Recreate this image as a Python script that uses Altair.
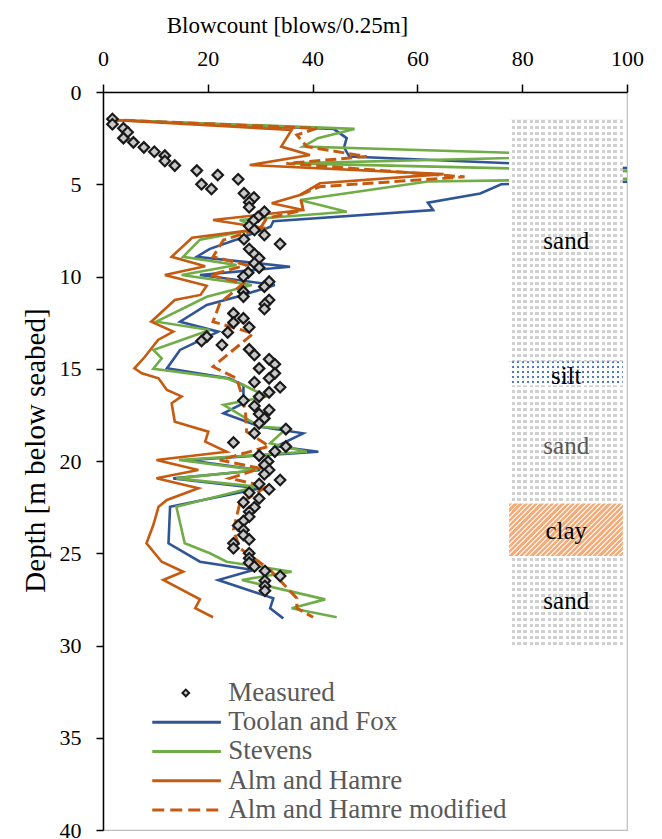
import altair as alt
import pandas as pd

# ---------------- data ----------------
meas_depth = [1.46, 1.75, 1.97, 2.18, 2.5, 2.73, 3.0, 3.24, 3.45, 3.74, 3.99, 4.26, 4.5, 4.73, 5.0,
              5.26, 5.49, 5.72, 5.98, 6.25, 6.49, 6.76, 6.97, 7.26, 7.48, 7.75, 7.98, 8.24, 8.51, 8.78,
              9.01, 9.28, 9.52, 9.79, 10.0, 10.28, 10.55, 10.82, 11.09, 11.27, 11.49, 11.76, 12.0, 12.27, 12.5,
              12.75, 13.03, 13.26, 13.5, 13.71, 13.95, 14.25, 14.49, 14.76, 14.98, 15.25, 15.52, 15.73, 16.0, 16.28,
              16.51, 16.72, 17.02, 17.24, 17.45, 17.69, 17.96, 18.27, 18.5, 19.0, 19.22, 19.49, 19.71, 20.03, 20.22,
              20.49, 20.72, 21.03, 21.25, 21.53, 21.72, 22.03, 22.24, 22.51, 22.75, 23.02, 23.25, 23.5, 23.74, 24.01,
              24.25, 24.46, 24.73, 25.0, 25.27, 25.51, 25.72, 25.96, 26.23, 26.49, 26.78, 27.03]
meas_blow = [1.8, 1.8, 3.9, 4.7, 3.9, 5.8, 7.8, 9.8, 11.8, 11.8, 13.7, 17.9, 21.9, 25.8, 18.8,
             20.7, 26.9, 28.8, 27.9, 27.9, 30.8, 29.6, 28.7, 27.9, 28.9, 30.8, 26.9, 33.8, 27.9, 28.9,
             29.8, 28.9, 29.8, 27.7, 26.8, 31.7, 30.8, 26.8, 26.8, 31.7, 30.9, 30.8, 24.9, 26.8, 24.9,
             27.9, 23.8, 19.8, 18.8, 22.7, 27.9, 28.9, 31.7, 32.8, 29.8, 32.8, 31.7, 28.9, 33.8, 31.7,
             29.8, 26.8, 28.9, 31.7, 29.8, 30.8, 29.8, 34.9, 28.9, 24.9, 34.9, 32.8, 29.8, 31.5, 30.8,
             31.7, 30.8, 33.8, 29.8, 31.7, 27.9, 29.8, 26.8, 28.9, 27.9, 27.9, 26.8, 25.8, 26.8, 26.8,
             27.9, 24.9, 24.9, 27.9, 27.9, 27.9, 28.9, 30.9, 33.8, 30.9, 30.9, 30.9]

tf_depth = [1.5, 2.0, 2.5, 3.0, 3.5, 4.15, 4.85, 5.0, 5.5, 6.0, 6.4, 7.0, 7.3, 8.0, 8.5,
            8.93, 9.47, 9.92, 10.46, 11.0, 11.54, 12.45, 12.99, 13.98, 14.98, 15.52, 15.88, 16.87, 17.41, 18.14,
            18.5, 19.2, 19.5, 19.95, 20.49, 20.94, 21.48, 22.48, 24.46, 25.46, 25.91, 26.45, 27.44, 27.98, 28.53]
tf_blow = [1, 44, 46.5, 46, 47, 102, 102, 76, 72, 62, 63, 32.5, 32, 25.5, 20.4,
           17.9, 35.7, 18.5, 32.8, 26.8, 19.8, 14.7, 22.0, 14.7, 12.2, 24, 26.8, 26.8, 23, 30,
           38.2, 33.1, 41.1, 16, 30, 13.4, 30, 12.8, 12.5, 18.5, 28.7, 22, 32.5, 31.9, 34.4]

st_depth = [1.5, 2.0, 2.5, 2.96, 3.45, 3.87, 4.3, 4.7, 4.85, 5.85, 6.49, 6.94, 7.39, 8.0, 8.93,
            9.38, 9.92, 10.46, 11.1, 12.45, 12.9, 13.98, 14.43, 15.0, 15.52, 15.88, 16.5, 16.96, 18.14, 18.23,
            19.04, 19.5, 19.95, 20.49, 20.94, 21.39, 22.48, 24.46, 25.0, 25.46, 26.0, 26.45, 27.5, 27.98, 28.47]
st_blow = [1, 48, 41, 38.2, 96, 36, 102, 102, 62, 37.6, 46.5, 26.1, 30, 18.5, 15.3,
           25.5, 15, 28.4, 19.8, 10.2, 20.4, 9.6, 11.2, 9.6, 23.6, 26.8, 31.2, 23, 30, 35,
           31.9, 38.9, 14.5, 29.5, 14, 29.3, 14, 15.6, 20.4, 23.6, 36, 26.5, 42.4, 36, 44.6]

ah_depth = [1.5, 2.06, 2.96, 3.41, 3.96, 4.45, 4.95, 5.58, 6.03, 6.4, 6.94, 7.39, 7.9, 8.93, 9.45,
            9.92, 10.5, 11.0, 11.27, 12.45, 12.99, 13.44, 14.35, 14.98, 15.25, 15.52, 16.15, 16.5, 16.87, 17.87,
            18.41, 18.95, 19.5, 19.95, 20.49, 20.94, 21.48, 22.11, 22.48, 23.47, 24.46, 25.46, 26.0, 26.45, 27.5,
            27.98, 28.47]
ah_blow = [1, 36, 34, 39.5, 28, 65, 41.4, 37.6, 32.2, 38.2, 21, 31.2, 17, 13.1, 19.5,
           11.8, 19.8, 18.6, 13.7, 9.2, 13.4, 10.5, 8, 6, 7.4, 10.6, 12.2, 15, 13.1, 13.7,
           20.1, 19.5, 23.6, 10.2, 18.2, 10.2, 18.2, 12.2, 10.6, 9.6, 8.3, 11.2, 15.3, 11.5, 18.5,
           17.6, 21]

ahm_depth = [1.5, 1.97, 2.33, 2.96, 3.5, 3.87, 4.6, 5.13, 5.58, 6.4, 6.85, 7.4, 8.02, 8.93, 9.38,
             9.92, 10.37, 11.45, 12.45, 13.08, 14.89, 15.52, 16.42, 17.41, 18.41, 19.2, 19.95, 20.4, 20.94, 21.39,
             22.3, 23.74, 24.73, 25.37, 25.91, 27.44, 27.98, 28.47]
ahm_blow = [1, 40.8, 37, 38.9, 50.3, 35, 69, 41.4, 37.6, 38.2, 31.2, 30, 23, 21, 27.4,
            20.4, 26.8, 22.3, 21, 28.7, 21, 25.5, 26.5, 27.2, 27.4, 31.7, 22.3, 30, 24.2, 31.2,
            26.1, 24.9, 26.1, 29.3, 31.9, 37, 37, 40.1]

series_names = ["Measured", "Toolan and Fox", "Stevens", "Alm and Hamre", "Alm and Hamre modified"]

soil_names = ["sand", "silt", "sand", "clay", "sand"]
soil_top = [1.5, 14.6, 15.9, 22.3, 25.15]
soil_bottom = [14.6, 15.9, 22.3, 25.15, 30.0]
soil_label_depth = [8.1, 15.4, 19.2, 23.8, 27.6]

x_ticks = [0, 20, 40, 60, 80, 100]
y_ticks = [0, 5, 10, 15, 20, 25, 30, 35, 40]

# ---------------- styling / layout constants ----------------
W, H = 524, 738
XMAX, YMAX = 100, 40
COL_X1, COL_X2, LABEL_X = 77.5, 99.2, 88.4
SERIF = "Liberation Serif"
BLUE, GREEN, ORANGE = "#2f5597", "#70ad47", "#c55a11"
line_colors = [BLUE, GREEN, ORANGE, ORANGE]

color_scale = alt.Scale(domain=series_names[1:], range=line_colors)

x_axis = alt.Axis(orient="top", values=x_ticks, title="Blowcount [blows/0.25m]", labelFlush=False,
                  grid=False, tickSize=8, labelPadding=14, labelFontSize=22, labelFont=SERIF,
                  labelColor="black", titleFont=SERIF, titleFontSize=23, titleFontWeight="normal",
                  titleColor="black", titleX=184, titleY=-67, titleBaseline="middle",
                  domainColor="black", domainWidth=1.5, tickColor="black", tickWidth=1.5)
y_axis = alt.Axis(values=y_ticks, title="Depth [m below seabed]", grid=False, labelFlush=False,
                  tickSize=7, labelPadding=15, labelFontSize=22, labelFont=SERIF, labelColor="black",
                  titleFont=SERIF, titleFontSize=29, titleFontWeight="normal", titleColor="black",
                  titleX=-68, titleY=358, titleAngle=270, titleBaseline="middle", titleAlign="center",
                  domainColor="black", domainWidth=1.5, tickColor="black", tickWidth=1.5)

XS = alt.Scale(domain=[0, XMAX], nice=False, zero=False)
YS = alt.Scale(domain=[0, YMAX], reverse=True, nice=False, zero=False)


def X(field="blow"):
    return alt.X(f"{field}:Q", scale=XS, axis=x_axis)


def Y(field="depth"):
    return alt.Y(f"{field}:Q", scale=YS, axis=y_axis)


def series_df(name, d, b):
    return pd.DataFrame({"series": name, "depth": d, "blow": b, "ord": list(range(len(d)))})


solid_df = pd.concat([series_df(series_names[1], tf_depth, tf_blow),
                      series_df(series_names[2], st_depth, st_blow),
                      series_df(series_names[3], ah_depth, ah_blow)])
dashed_df = series_df(series_names[4], ahm_depth, ahm_blow)
meas_df = pd.DataFrame({"depth": meas_depth, "blow": meas_blow})

solid = alt.Chart(solid_df).mark_line(strokeWidth=2.6, clip=True).encode(
    x=X(), y=Y(), order="ord:Q", detail="series:N",
    color=alt.Color("series:N", scale=color_scale, legend=None))
dashed = alt.Chart(dashed_df).mark_line(strokeWidth=3, strokeDash=[11, 5], clip=True).encode(
    x=X(), y=Y(), order="ord:Q",
    color=alt.Color("series:N", scale=color_scale, legend=None))
points = alt.Chart(meas_df).mark_point(shape="diamond", filled=True, fill="#c8c8c8", stroke="#1a1a1a",
                                       strokeWidth=2.2, size=110, opacity=1, fillOpacity=1, clip=True).encode(
    x=X(), y=Y())


# ---------------- soil column with pattern fills ----------------
def stripes(length_px, pitch, on, c_on, c_off):
    stops, pos = [], 0.0
    while pos < length_px - 1e-6:
        a = round(pos / length_px, 5)
        b = round(min(pos + on, length_px) / length_px, 5)
        c = round(min(pos + pitch, length_px) / length_px, 5)
        stops += [{"offset": a, "color": c_on}, {"offset": b, "color": c_on},
                  {"offset": b, "color": c_off}, {"offset": c, "color": c_off}]
        pos += pitch
    return stops


def grad(stops, x2, y2):
    return {"gradient": "linear", "x1": 0, "y1": 0, "x2": x2, "y2": y2, "stops": stops}


px_w = (COL_X2 - COL_X1) * W / XMAX
py = H / YMAX
CLEAR = "rgba(255,255,255,0)"

col_df = pd.DataFrame({"x1": [COL_X1], "x2": [COL_X2], "top": [soil_top[0]], "bot": [soil_bottom[-1]]})
soil_df = pd.DataFrame({"soil": soil_names, "top": soil_top, "bot": soil_bottom,
                        "x1": COL_X1, "x2": COL_X2})
sand_h = (soil_bottom[-1] - soil_top[0]) * py


def rect_layer(df, fill):
    return alt.Chart(df).mark_rect(fill=fill, strokeWidth=0).encode(
        x=alt.X("x1:Q", scale=XS, axis=x_axis), x2="x2:Q",
        y=alt.Y("top:Q", scale=YS, axis=y_axis), y2="bot:Q")


sand_base = rect_layer(col_df, grad(stripes(sand_h, 6, 3.6, "#d0d0d0", "#ffffff"), 0, 1))
sand_mask = rect_layer(col_df, grad(stripes(px_w, 6, 2.4, "#ffffff", CLEAR), 1, 0))

silt_df = soil_df[soil_df.soil == "silt"]
silt_h = float((silt_df.bot - silt_df.top).iloc[0]) * py
silt_base = rect_layer(silt_df, grad(stripes(silt_h, 5, 1.7, "#4a78cc", "#ffffff"), 0, 1))
silt_mask = rect_layer(silt_df, grad(stripes(px_w, 5, 3.3, "#ffffff", CLEAR), 1, 0))

clay_df = soil_df[soil_df.soil == "clay"]
clay_h = float((clay_df.bot - clay_df.top).iloc[0]) * py
cc = (px_w + clay_h) / (px_w ** 2 + clay_h ** 2)
diag_len = (px_w + clay_h) / 2 ** 0.5
clay = rect_layer(clay_df, grad(stripes(diag_len, 3.7, 2.3, "#f4ad7a", "#fdeadc"),
                                round(cc * px_w, 4), round(cc * clay_h, 4)))

lab_df = pd.DataFrame({"soil": soil_names, "depth": soil_label_depth, "blow": LABEL_X,
                       "col": ["#000000", "#000000", "#595959", "#000000", "#000000"]})
soil_labels = alt.Chart(lab_df).mark_text(font=SERIF, fontSize=25, baseline="middle", align="center").encode(
    x=X(), y=Y(), text="soil:N", color=alt.Color("col:N", scale=None))

# ---------------- legend (built from the series names) ----------------
LEG_Y0, LEG_DY = 32.57, 1.585
LEG_X1, LEG_X2, LEG_TX, LEG_MX = 9.4, 22.5, 23.9, 15.8
leg_df = pd.DataFrame({"series": series_names,
                       "depth": [LEG_Y0 + LEG_DY * i for i in range(len(series_names))],
                       "blow": LEG_X1, "blow2": LEG_X2})
leg_solid = alt.Chart(leg_df[leg_df.series.isin(series_names[1:4])]).mark_rule(strokeWidth=3).encode(
    x=X(), x2="blow2:Q", y=Y(), color=alt.Color("series:N", scale=color_scale, legend=None))
leg_dash = alt.Chart(leg_df[leg_df.series == series_names[4]]).mark_rule(strokeWidth=3, strokeDash=[12, 6]).encode(
    x=X(), x2="blow2:Q", y=Y(), color=alt.Color("series:N", scale=color_scale, legend=None))
leg_pt_df = leg_df[leg_df.series == series_names[0]].assign(blow=LEG_MX)
leg_point = alt.Chart(leg_pt_df).mark_point(shape="diamond", filled=True, fill="#c8c8c8", stroke="#1a1a1a",
                                            strokeWidth=2, size=45, opacity=1).encode(x=X(), y=Y())
leg_text = alt.Chart(leg_df.assign(blow=LEG_TX)).mark_text(
    font=SERIF, fontSize=27, color="#595959", align="left", baseline="middle").encode(
    x=X(), y=Y(), text="series:N")

chart = alt.layer(solid, dashed, points, sand_base, sand_mask, silt_base, silt_mask, clay, soil_labels,
                  leg_solid, leg_dash, leg_point, leg_text).properties(
    width=W, height=H,
    autosize=alt.AutoSizeParams(type="none"),
    padding={"left": 103, "top": 92, "right": 35, "bottom": 9},
    background="white",
).configure_view(stroke="#bfbfbf", strokeWidth=1.2).configure_axis(
    labelFont=SERIF, titleFont=SERIF
).configure_text(font=SERIF)

chart.save("out.html", embed_options={"renderer": "svg", "actions": False})
